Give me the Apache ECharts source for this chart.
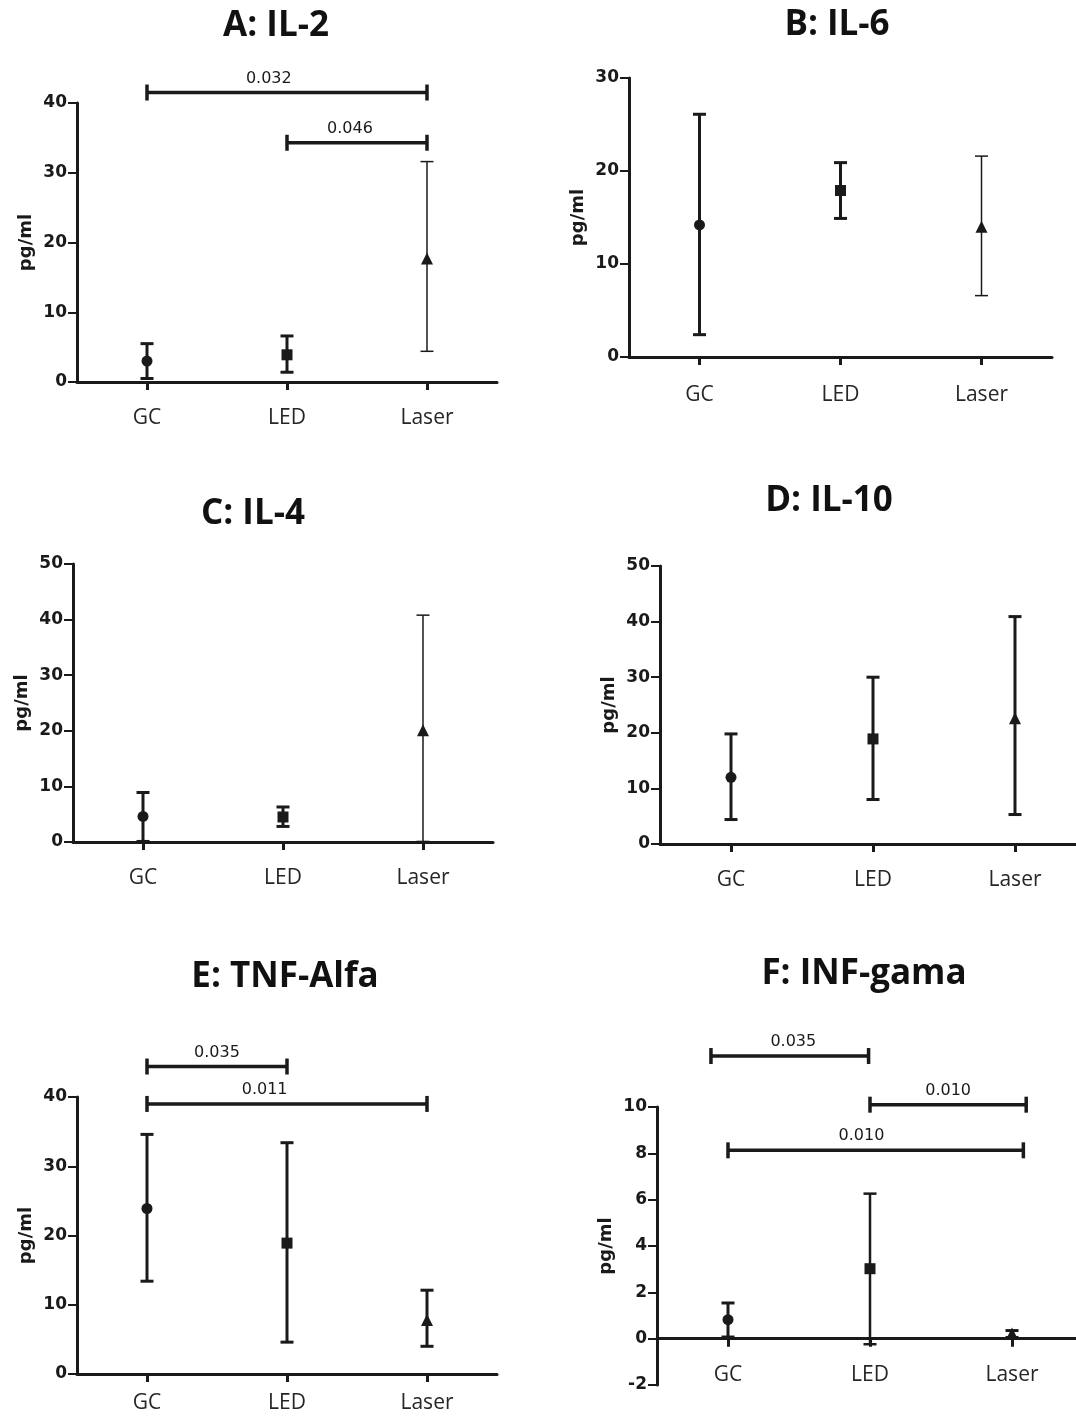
<!DOCTYPE html>
<html><head><meta charset="utf-8">
<script src="https://cdn.jsdelivr.net/npm/echarts@6/dist/echarts.min.js"></script>
<style>html,body{margin:0;padding:0;background:#fff}#c{width:1076px;height:1416px}</style>
</head><body><div id="c"></div>
<script>
// ---------- DATA ----------
const categories = ['GC', 'LED', 'Laser'];
const panelTitles = ['A: IL-2', 'B: IL-6', 'C: IL-4', 'D: IL-10', 'E: TNF-Alfa', 'F: INF-gama'];
const yAxisName = 'pg/ml';

// y-axis ranges [min, max, step]
const il2Range = [0, 40, 10];
const il6Range = [0, 30, 10];
const il4Range = [0, 50, 10];
const il10Range = [0, 50, 10];
const tnfRange = [0, 40, 10];
const infRange = [-2, 10, 2];

// means and error-bar ends (GC, LED, Laser)
const il2Mean = [3.0, 3.9, 17.7];
const il2Low  = [0.5, 1.4, 4.4];
const il2High = [5.5, 6.6, 31.6];

const il6Mean = [14.2, 17.9, 14.0];
const il6Low  = [2.4, 14.9, 6.6];
const il6High = [26.1, 20.9, 21.6];

const il4Mean = [4.6, 4.5, 20.1];
const il4Low  = [0.1, 2.8, 0.1];
const il4High = [8.9, 6.3, 40.8];

const il10Mean = [12.0, 18.9, 22.6];
const il10Low  = [4.4, 8.0, 5.3];
const il10High = [19.8, 30.0, 40.9];

const tnfMean = [23.9, 18.9, 7.8];
const tnfLow  = [13.4, 4.6, 4.0];
const tnfHigh = [34.6, 33.4, 12.1];

const infMean = [0.82, 3.02, 0.22];
const infLow  = [0.07, -0.24, 0.05];
const infHigh = [1.54, 6.26, 0.35];

// significance brackets: [from (category pos), to (category pos), level (pg/ml)]
const il2Brackets = [[0, 2, 41.5], [1, 2, 34.3]];
const il2PValues = ['0.032', '0.046'];
const tnfBrackets = [[0, 1, 44.4], [0, 2, 39.0]];
const tnfPValues = ['0.035', '0.011'];
const infBrackets = [[-0.12, 0.99, 12.2], [1.0, 2.1, 10.1], [0, 2.08, 8.13]];
const infPValues = ['0.035', '0.010', '0.010'];

// ---------- LAYOUT / STYLE ----------
const INK = '#1a1a1a';
const SYMBOLS = ['circle', 'rect', 'triangle'];
const panels = [
  { title: panelTitles[0], range: il2Range, mean: il2Mean, low: il2Low, high: il2High, br: il2Brackets, pv: il2PValues, brLabelAt: [0.87, 1.45],
    grid: { left: 77, top: 103, width: 420, height: 279 }, titlePos: [276, 26], errW: [3, 3, 1.5], labelMargin: 26 },
  { title: panelTitles[1], range: il6Range, mean: il6Mean, low: il6Low, high: il6High, br: [], pv: [], brLabelAt: [],
    grid: { left: 629, top: 78, width: 423, height: 279 }, titlePos: [837, 25], errW: [3, 3, 1.5], labelMargin: 28 },
  { title: panelTitles[2], range: il4Range, mean: il4Mean, low: il4Low, high: il4High, br: [], pv: [], brLabelAt: [],
    grid: { left: 73, top: 564, width: 420, height: 278 }, titlePos: [253, 514], errW: [3, 3, 1.5], labelMargin: 26 },
  { title: panelTitles[3], range: il10Range, mean: il10Mean, low: il10Low, high: il10High, br: [], pv: [], brLabelAt: [],
    grid: { left: 660, top: 566, width: 426, height: 278 }, titlePos: [829, 501], errW: [3, 3, 3], labelMargin: 26 },
  { title: panelTitles[4], range: tnfRange, mean: tnfMean, low: tnfLow, high: tnfHigh, br: tnfBrackets, pv: tnfPValues, brLabelAt: [0.5, 0.84],
    grid: { left: 77, top: 1097, width: 420, height: 277 }, titlePos: [285, 977], errW: [3, 3, 3], labelMargin: 19 },
  { title: panelTitles[5], range: infRange, mean: infMean, low: infLow, high: infHigh, br: infBrackets, pv: infPValues, brLabelAt: [0.46, 1.55, 0.94],
    grid: { left: 657, top: 1107, width: 426, height: 278 }, titlePos: [864, 974], errW: [3, 2.5, 3], labelMargin: 26 }
];

const option = { animation: false, backgroundColor: '#fff', grid: [], xAxis: [], yAxis: [], series: [], graphic: [] };

panels.forEach((p, i) => {
  option.grid.push(Object.assign({ containLabel: false, outerBoundsMode: 'none' }, p.grid));
  // place the category axis at value 0 (derived from the y scale)
  const [ymin, ymax] = p.range;
  const zeroOffset = ymin < 0 ? -p.grid.height * (0 - ymin) / (ymax - ymin) : 0;
  option.xAxis.push({
    type: 'category', gridIndex: i, data: categories, boundaryGap: true, position: 'bottom', offset: zeroOffset,
    axisLine: { show: true, onZero: false, lineStyle: { color: INK, width: 3 } },
    axisTick: { show: true, alignWithLabel: true, length: 8, lineStyle: { color: INK, width: 3 } },
    axisLabel: { fontFamily: 'Open Sans', fontSize: 21, color: '#262626', margin: p.labelMargin },
    splitLine: { show: false }
  });
  option.xAxis.push({ type: 'value', gridIndex: i, min: -0.5, max: 2.5, show: false });
  option.yAxis.push({
    type: 'value', gridIndex: i, min: p.range[0], max: p.range[1], interval: p.range[2],
    axisLine: { show: true, onZero: false, lineStyle: { color: INK, width: 3 } },
    axisTick: { show: true, length: 9, lineStyle: { color: INK, width: 2 } },
    axisLabel: { fontFamily: 'DejaVu Sans', fontWeight: 'bold', fontSize: 17, color: INK, margin: 10 },
    splitLine: { show: false },
    name: yAxisName, nameLocation: 'middle', nameRotate: 90, nameGap: 42,
    nameTextStyle: { fontFamily: 'DejaVu Sans', fontWeight: 'bold', fontSize: 18, color: INK }
  });

  // error bars
  option.series.push({
    type: 'custom', xAxisIndex: 2 * i, yAxisIndex: i, z: 2,
    data: p.mean.map((m, k) => [k, p.low[k], p.high[k]]),
    encode: { x: 0, y: [1, 2] },
    renderItem: (params, api) => {
      const c = api.value(0);
      const lo = api.coord([c, api.value(1)]);
      const hi = api.coord([c, api.value(2)]);
      const lw = p.errW[params.dataIndex];
      const hw = 6.5;
      const st = { stroke: INK, lineWidth: lw, fill: null };
      return { type: 'group', children: [
        { type: 'line', shape: { x1: lo[0], y1: lo[1], x2: hi[0], y2: hi[1] }, style: st },
        { type: 'line', shape: { x1: lo[0] - hw, y1: lo[1], x2: lo[0] + hw, y2: lo[1] }, style: st },
        { type: 'line', shape: { x1: hi[0] - hw, y1: hi[1], x2: hi[0] + hw, y2: hi[1] }, style: st }
      ]};
    }
  });

  // means
  option.series.push({
    type: 'scatter', xAxisIndex: 2 * i, yAxisIndex: i, z: 3,
    symbolSize: 11, itemStyle: { color: INK, opacity: 1 },
    data: p.mean.map((m, k) => ({ value: [k, m], symbol: SYMBOLS[k], symbolSize: k === 2 ? 12 : 11 }))
  });

  // significance brackets
  if (p.br.length) {
    option.series.push({
      type: 'custom', xAxisIndex: 2 * i + 1, yAxisIndex: i, z: 4, clip: false,
      data: p.br,
      encode: { x: [0, 1], y: 2 },
      renderItem: (params, api) => {
        const lvl = api.value(2);
        const a = api.coord([api.value(0), lvl]);
        const e = api.coord([api.value(1), lvl]);
        const lx = api.coord([p.brLabelAt[params.dataIndex], lvl])[0];
        const st = { stroke: INK, lineWidth: 3.5, fill: null };
        const ch = 8;
        return { type: 'group', children: [
          { type: 'line', shape: { x1: a[0], y1: a[1], x2: e[0], y2: e[1] }, style: st },
          { type: 'line', shape: { x1: a[0], y1: a[1] - ch, x2: a[0], y2: a[1] + ch }, style: st },
          { type: 'line', shape: { x1: e[0], y1: e[1] - ch, x2: e[0], y2: e[1] + ch }, style: st },
          { type: 'text', style: { text: p.pv[params.dataIndex], x: lx, y: a[1] - 14,
              align: 'center', verticalAlign: 'middle', textAlign: 'center', textVerticalAlign: 'middle',
              font: '16px "DejaVu Sans"', fill: INK } }
        ]};
      }
    });
  }

  option.graphic.push({
    type: 'text', x: p.titlePos[0], y: p.titlePos[1],
    style: { text: p.title, font: 'bold 35px "Open Sans"', fill: '#111',
      align: 'center', verticalAlign: 'middle', textAlign: 'center', textVerticalAlign: 'middle' }
  });
});

const chart = echarts.init(document.getElementById('c'), null, { renderer: 'canvas' });
chart.setOption(option);
</script></body></html>
